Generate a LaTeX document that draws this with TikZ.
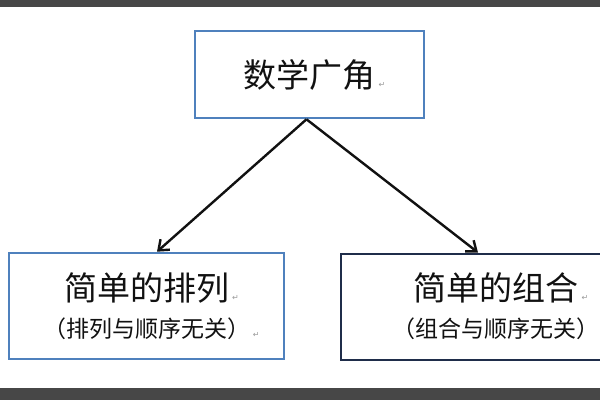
\documentclass[tikz,border=0pt]{standalone}
\usepackage{fontspec}
\usepackage{tikz}
\usepackage{xcolor}
\usetikzlibrary{arrows.meta,positioning}
\newfontfamily\cjk{Noto Sans CJK SC}
\newfontfamily\symfont{DejaVu Sans}
\definecolor{barfill}{HTML}{474747}
\definecolor{boxblue}{HTML}{4F81BD}
\definecolor{boxnavy}{HTML}{1F2D4A}
\definecolor{ink}{HTML}{111111}
\definecolor{markgray}{HTML}{9A9A9A}
\newcommand{\retmark}{\rlap{\hspace{3pt}\textcolor{markgray}{\symfont\fontsize{8}{8}\selectfont ↵}}}
\newcommand{\headfont}{\cjk\fontsize{33}{38}\selectfont}
\newcommand{\notefont}{\cjk\fontsize{23}{27}\selectfont}
\tikzset{
  bar/.style={fill=barfill,draw=none},
  topbox/.style={draw=boxblue,fill=white,line width=2.6pt,
                 minimum width=229pt,minimum height=87pt,
                 inner sep=0pt,align=center,text=ink},
  leafbox/.style={draw=boxblue,fill=white,line width=2.6pt,
                  minimum width=275pt,minimum height=106pt,
                  inner sep=0pt,align=center,text=ink},
  darkbox/.style={leafbox,draw=boxnavy,line width=2pt,minimum width=310pt},
  branch/.style={-{Straight Barb[length=9pt,width=14pt,line width=2.4pt]},
                 line width=2.4pt,draw=ink}
}

\begin{document}
\begin{tikzpicture}[x=1pt,y=-1pt]
    \useasboundingbox (0,0) rectangle (600,400);
    \clip (0,0) rectangle (600,400);
    \fill[white] (0,0) rectangle (600,400);
    \path[bar] (0,0) rectangle (600,7);
    \path[bar] (0,388) rectangle (600,400);
    \node[topbox] (topic) at (309.5,74.5) {\headfont 数学广角\retmark};
    \node[leafbox] (perm) at (146.5,306) {%
      \headfont 简单的排列\retmark\\[14pt]
      \notefont （排列与顺序无关）\retmark};
    \node[darkbox] (comb) at (496,306.5) {%
      \headfont 简单的组合\retmark\\[14pt]
      \notefont （组合与顺序无关）};
    \draw[branch] ([xshift=-3pt]topic.south) -- ([xshift=10.5pt]perm.north);
    \draw[branch] ([xshift=-3pt]topic.south) -- ([xshift=-18pt]comb.north);
  \end{tikzpicture}
\end{document}
